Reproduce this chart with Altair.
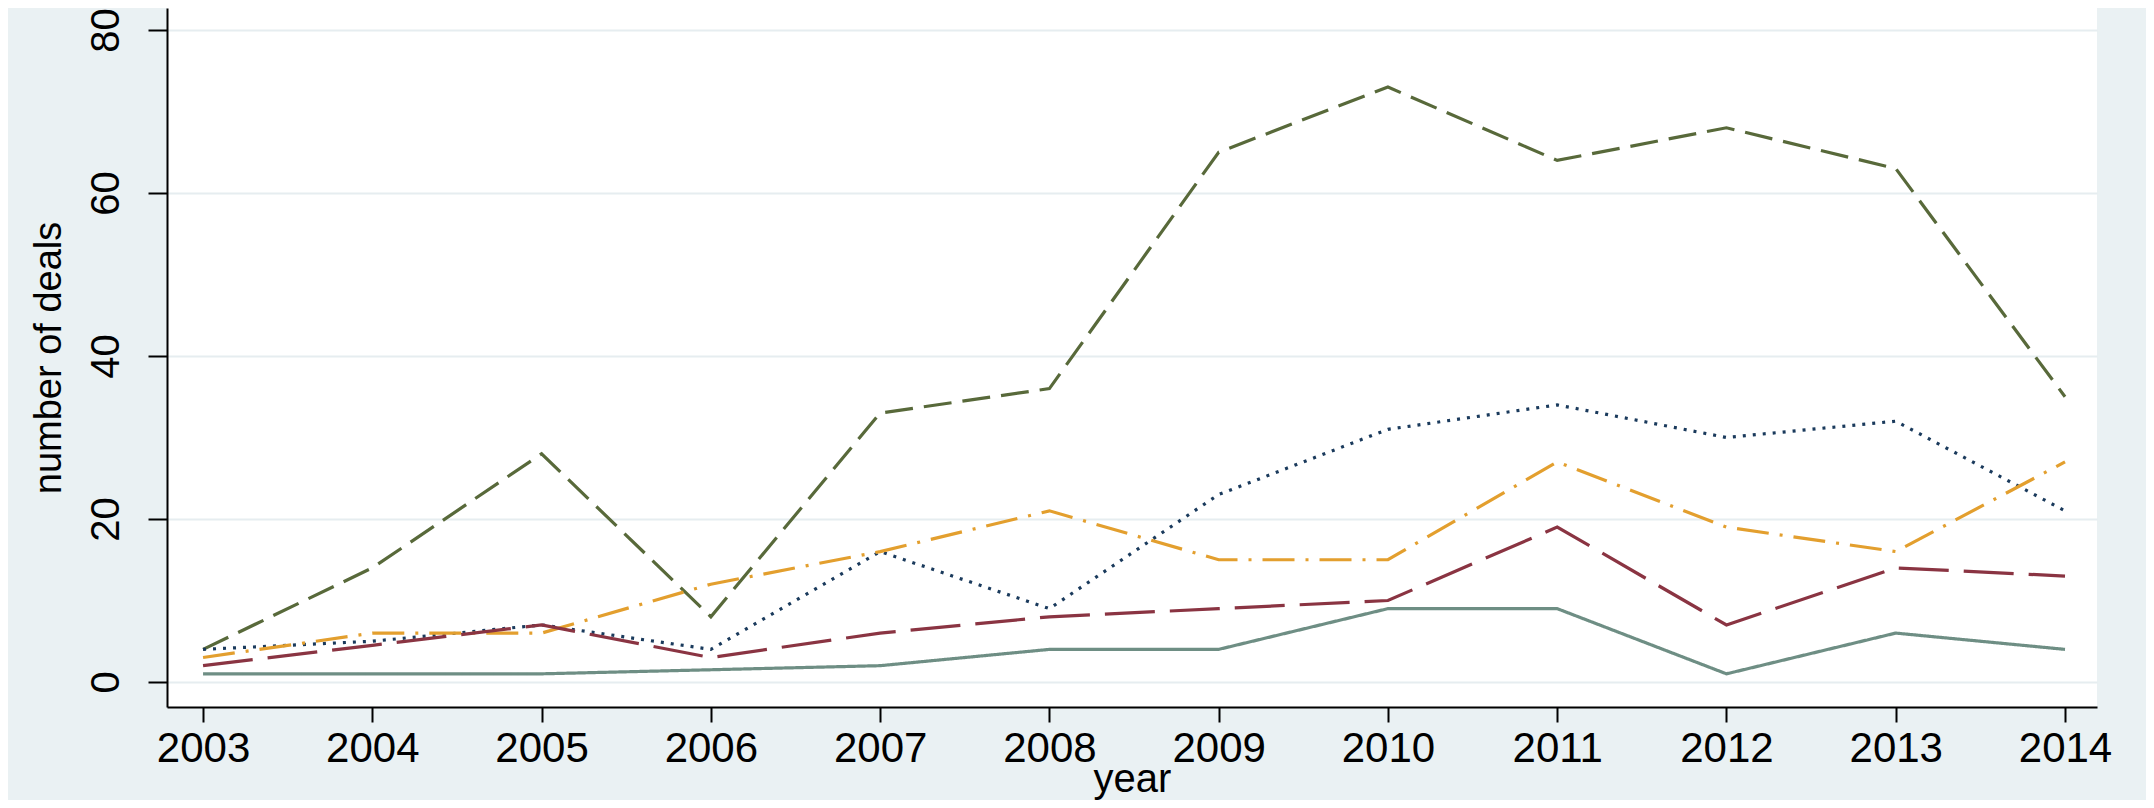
import altair as alt
import pandas as pd

years = [2003, 2004, 2005, 2006, 2007, 2008, 2009, 2010, 2011, 2012, 2013, 2014]
series_names = ["s1", "s2", "s3", "s4", "s5"]
s1_green = [4, 14, 28, 8, 33, 36, 65, 73, 64, 68, 63, 35]
s2_navy = [4, 5, 7, 4, 16, 9, 23, 31, 34, 30, 32, 21]
s3_orange = [3, 6, 6, 12, 16, 21, 15, 15, 27, 19, 16, 27]
s4_maroon = [2, 4.5, 7, 3, 6, 8, 9, 10, 19, 7, 14, 13]
s5_teal = [1, 1, 1, 1.5, 2, 4, 4, 9, 9, 1, 6, 4]
y_ticks = [0, 20, 40, 60, 80]

colors = ["#58693a", "#1a3a5c", "#e39f2e", "#8a3442", "#6e8e84"]
dashes = [[28, 11], [3, 7], [32, 11, 3, 11], [50, 15], [1, 0]]

rows = []
for name, vals in zip(series_names, [s1_green, s2_navy, s3_orange, s4_maroon, s5_teal]):
    for yr, v in zip(years, vals):
        rows.append({"year": yr, "deals": v, "series": name})
df = pd.DataFrame(rows)

font = "Liberation Sans"

chart = alt.Chart(df).mark_line(strokeWidth=3.2, strokeCap="butt", strokeJoin="miter").encode(
    x=alt.X("year:Q",
            scale=alt.Scale(domain=[2002.787, 2014.189], nice=False, zero=False),
            axis=alt.Axis(values=years, format="d", title="year",
                          tickSize=15, labelPadding=6, labelFontSize=42,
                          titleFontSize=40, titleY=84, titleBaseline="alphabetic",
                          grid=False, labelOverlap=False)),
    y=alt.Y("deals:Q",
            scale=alt.Scale(domain=[-3.07, 82.7], nice=False, zero=False),
            axis=alt.Axis(values=y_ticks, title="number of deals",
                          tickSize=19, labelAngle=270, labelAlign="center",
                          labelBaseline="alphabetic", labelPadding=30,
                          labelFontSize=40, titleFontSize=38, titleAngle=270,
                          titleX=-107, titleBaseline="alphabetic",
                          grid=True, gridColor="#e6edf0", gridWidth=2,
                          labelOverlap=False)),
    color=alt.Color("series:N", scale=alt.Scale(domain=series_names, range=colors), legend=None),
    strokeDash=alt.StrokeDash("series:N", scale=alt.Scale(domain=series_names, range=dashes), legend=None),
    order=alt.Order("series:N"),
).properties(
    width=1930,
    height=699,
    background="#eaf1f3",
    padding={"left": 159, "top": 0, "right": 49, "bottom": 93},
    autosize=alt.AutoSizeParams(type="none"),
).configure_view(
    fill="white", stroke=None
).configure_axis(
    domainColor="black", domainWidth=2, tickColor="black", tickWidth=2,
    labelColor="black", titleColor="black", labelFont=font, titleFont=font,
    titleFontWeight="normal",
)

chart.save("out.html", embed_options={"renderer": "svg", "actions": False})
